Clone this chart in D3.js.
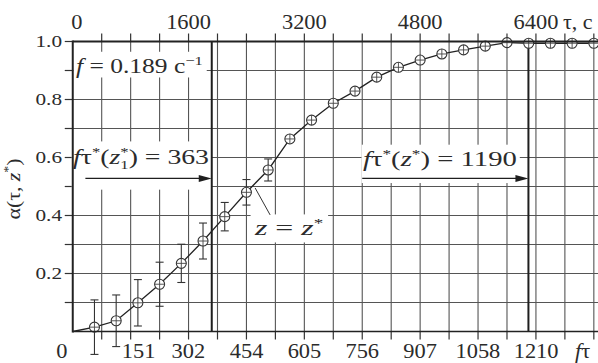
<!DOCTYPE html>
<html><head><meta charset="utf-8">
<script src="https://cdn.jsdelivr.net/npm/d3@7"></script>
<style>
body{margin:0;background:#fff;}
svg{display:block;}
</style>
</head><body>
<svg id="c" width="598" height="363"></svg>
<script>
// ---- data ----
const freq = 0.189;                       // f, c^-1
const tauValues = [300,600,900,1200,1500,1800,2100,2400,2700,3000,3300,3600,
                   3900,4200,4500,4800,5100,5400,5700,6000,6300,6600,6900,7200];
const alphaValues = [0.015,0.037,0.099,0.163,0.235,0.312,0.396,0.480,0.557,0.664,0.729,0.787,
                     0.829,0.877,0.911,0.936,0.957,0.971,0.984,0.996,0.994,0.994,0.994,0.994];
const alphaErrors = [0.094,0.089,0.080,0.076,0.066,0.062,0.049,0.044,0.038,0,0,0,
                     0,0,0,0,0,0,0,0,0,0,0,0];
const curveStart = {tau:0, alpha:0};
const topTickLabels = [0,1600,3200,4800,6400];
const bottomTickLabels = [0,151,302,454,605,756,907,1058,1210];
const yTickLabels = [0.2,0.4,0.6,0.8,1.0];
const markerFTau = [363,1190];            // f*tau*(z1*) and f*tau*(z*)

const FONT = '"Liberation Serif", "DejaVu Serif", "Liberation Sans", Arial, sans-serif';
const INK = '#2b2b2b';

// ---- scales ----
const svg = d3.select('#c');
const W = 598, H = 363;
const tauMax = 7270;
const x = d3.scaleLinear().domain([0,tauMax]).range([72.75,598.9]);
const xf = d3.scaleLinear().domain([0,tauMax*freq]).range([72.75,598.9]);
const y = d3.scaleLinear().domain([0,1]).range([331.5,41.5]);
const X0 = x(0), X1 = W, Y0 = y(0), Y1 = y(1);

svg.append('rect').attr('width',W).attr('height',H).attr('fill','#fff');

// ---- grid ----
const gridTau = d3.range(400, tauMax, 400);
const gridAlpha = d3.range(1,10).map(d=>d/10);
const grid = svg.append('g').attr('stroke','#555').attr('stroke-width',1.1);
grid.selectAll('.v').data(gridTau).join('line')
  .attr('x1',d=>x(d)).attr('x2',d=>x(d)).attr('y1',Y1).attr('y2',Y0);
grid.selectAll('.h').data(gridAlpha).join('line')
  .attr('x1',X0).attr('x2',X1).attr('y1',d=>y(d)).attr('y2',d=>y(d));

// ticks (outward)
const ticks = svg.append('g').attr('stroke','#333').attr('stroke-width',1.2);
ticks.selectAll('.tt').data(gridTau).join('line')
  .attr('x1',d=>x(d)).attr('x2',d=>x(d)).attr('y1',Y1-8).attr('y2',Y1);
ticks.selectAll('.bt').data(gridTau).join('line')
  .attr('x1',d=>x(d)).attr('x2',d=>x(d)).attr('y1',Y0).attr('y2',Y0+8);
ticks.selectAll('.lt').data(gridAlpha.concat([1])).join('line')
  .attr('x1',X0-8).attr('x2',X0).attr('y1',d=>y(d)).attr('y2',d=>y(d));

// ---- text helpers ----
function label(parent, px, py, size, sx, anchor){
  const g = parent.append('g').attr('transform',`translate(${px},${py}) scale(${sx},1)`);
  const t = g.append('text').style('font-family',FONT).attr('fill',INK)
    .attr('font-size',size).attr('text-anchor',anchor||'start');
  g.attr('data-x',px).attr('data-y',py);
  return {g,t};
}
function fitWidth(L, target){
  const b = L.t.node().getBBox();
  const s = target / b.width;
  L.g.attr('transform',`translate(${L.g.attr('data-x')},${L.g.attr('data-y')}) scale(${s},1)`);
}
function whiteBox(lbl, padL, padR, padT, padB){
  const b = lbl.t.node().getBBox();
  lbl.g.insert('rect','text')
    .attr('x',b.x-padL).attr('y',b.y-padT)
    .attr('width',b.width+padL+padR).attr('height',b.height+padT+padB)
    .attr('fill','#fff');
}

const ann = svg.append('g');

// f = 0.189 c^-1
{
  const L = label(ann, x(45), y(0.891), 20, 1);
  L.t.append('tspan').attr('font-style','italic').text('f');
  L.t.append('tspan').text(' = 0.189 с');
  L.t.append('tspan').attr('font-size',13).attr('dy',-8).text('−1');
  fitWidth(L,127);
  whiteBox(L,2,3,2,0);
}
// f tau*(z1*) = 363
{
  const L = label(ann, x(5), y(0.577), 20, 1);
  L.t.append('tspan').attr('font-style','italic').text('f');
  L.t.append('tspan').text('τ');
  L.t.append('tspan').attr('font-size',12).attr('dy',-8).text('*');
  L.t.append('tspan').attr('dy',8).text('(');
  L.t.append('tspan').attr('font-style','italic').text('z');
  L.t.append('tspan').attr('font-size',12).attr('dy',5).text('1');
  L.t.append('tspan').attr('font-size',12).attr('dx',-6).attr('dy',-13).text('*');
  L.t.append('tspan').attr('dy',8).text(') = 363');
  fitWidth(L,136);
  whiteBox(L,1,2,4,18);
}
// f tau*(z*) = 1190
{
  const L = label(ann, x(4010), y(0.570), 20, 1);
  L.t.append('tspan').attr('font-style','italic').text('f');
  L.t.append('tspan').text('τ');
  L.t.append('tspan').attr('font-size',12).attr('dy',-8).text('*');
  L.t.append('tspan').attr('dy',8).text('(');
  L.t.append('tspan').attr('font-style','italic').text('z');
  L.t.append('tspan').attr('font-size',12).attr('dy',-8).text('*');
  L.t.append('tspan').attr('dy',8).text(') = 1190');
  fitWidth(L,154);
  whiteBox(L,1,2,3,12);
}
// z = z*
{
  const L = label(ann, x(2518), y(0.333), 20, 1);
  L.t.append('tspan').attr('font-style','italic').text('z');
  L.t.append('tspan').text(' = ');
  L.t.append('tspan').attr('font-style','italic').text('z');
  L.t.append('tspan').attr('font-size',12).attr('dy',-8).text('*');
  fitWidth(L,70);
  whiteBox(L,2,3,2,3);
}

// ---- marker lines ----
svg.append('g').selectAll('line').data(markerFTau).join('line')
  .attr('x1',d=>xf(d)).attr('x2',d=>xf(d)).attr('y1',Y1).attr('y2',Y0)
  .attr('stroke','#1e1e1e').attr('stroke-width',2);

// ---- arrows ----
const arrows = [{from:xf(33), to:xf(markerFTau[0]), a:0.528},
                {from:xf(756), to:xf(markerFTau[1]), a:0.528}];
const ag = svg.append('g');
arrows.forEach(r=>{
  ag.append('line').attr('x1',r.from).attr('x2',r.to-10).attr('y1',y(r.a)).attr('y2',y(r.a))
    .attr('stroke','#1e1e1e').attr('stroke-width',1.3);
  ag.append('path').attr('d',`M${r.to},${y(r.a)} L${r.to-13},${y(r.a)-3.5} L${r.to-13},${y(r.a)+3.5} Z`)
    .attr('fill','#1e1e1e');
});
// leader line for z = z*
svg.append('line').attr('x1',x(2520)).attr('y1',y(0.495)).attr('x2',x(2727)).attr('y2',y(0.402))
  .attr('stroke','#333').attr('stroke-width',1);

// ---- curve ----
const pts = tauValues.map((t,i)=>({tau:t, alpha:alphaValues[i], err:alphaErrors[i]}));
const line = d3.line().x(d=>x(d.tau)).y(d=>y(d.alpha));
svg.append('path').datum([curveStart].concat(pts)).attr('d',line)
  .attr('fill','none').attr('stroke','#222').attr('stroke-width',1.3);

// error bars
const eb = svg.append('g').attr('stroke','#333').attr('stroke-width',1.1);
pts.filter(d=>d.err>0).forEach(d=>{
  const cx = x(d.tau), yt = y(d.alpha+d.err), yb = y(d.alpha-d.err);
  eb.append('line').attr('x1',cx).attr('x2',cx).attr('y1',yt).attr('y2',yb);
  eb.append('line').attr('x1',cx-4).attr('x2',cx+4).attr('y1',yt).attr('y2',yt);
  eb.append('line').attr('x1',cx-4).attr('x2',cx+4).attr('y1',yb).attr('y2',yb);
});

// markers ⊕
const mk = svg.append('g').selectAll('g').data(pts).join('g')
  .attr('transform',d=>`translate(${x(d.tau)},${y(d.alpha)})`);
mk.append('circle').attr('r',5).attr('fill','#fff').attr('stroke','#333').attr('stroke-width',1.1);
mk.append('line').attr('x1',-5).attr('x2',5).attr('stroke','#444').attr('stroke-width',0.9);
mk.append('line').attr('y1',-5).attr('y2',5).attr('stroke','#444').attr('stroke-width',0.9);

// ---- frame ----
const fr = svg.append('g').attr('stroke','#222');
fr.append('line').attr('x1',X0).attr('x2',X1).attr('y1',Y1).attr('y2',Y1).attr('stroke-width',2);
fr.append('line').attr('x1',X0).attr('x2',X0).attr('y1',Y1-1).attr('y2',Y0+1).attr('stroke-width',2);
fr.append('line').attr('x1',X0).attr('x2',X1).attr('y1',Y0).attr('y2',Y0).attr('stroke-width',1.6);

// ---- tick labels ----
const tl = svg.append('g');
topTickLabels.forEach((v,i)=>{
  const L = label(tl, x(v)+(i===0?4:0), 29, 20, 1.12, 'middle');
  L.t.text(v);
});
{
  const L = label(tl, x(6400)+27, 29, 20, 1.1, 'start');
  L.t.text('τ, с');
}
bottomTickLabels.forEach((v,i)=>{
  const dx = i===0 ? -11 : (i===1 ? 8 : 0);
  const L = label(tl, xf(v)+dx, 358, 20, 1.12, 'middle');
  L.t.text(v);
});
{
  const L = label(tl, x(6400)+39, 358, 20, 1.12, 'start');
  L.t.append('tspan').attr('font-style','italic').text('f');
  L.t.append('tspan').text('τ');
}
yTickLabels.forEach(v=>{
  const L = label(tl, 62, y(v), 17, 1.25, 'end');
  L.t.attr('dominant-baseline','central').text(v.toFixed(1));
});
// y title (reads bottom to top)
{
  const g = svg.append('g').attr('transform',`translate(14,189) rotate(-90)`);
  const t = g.append('text').style('font-family',FONT).attr('fill',INK)
    .attr('font-size',19).attr('text-anchor','middle').attr('dominant-baseline','central');
  t.append('tspan').text('α(τ, ');
  t.append('tspan').attr('font-style','italic').text('z');
  t.append('tspan').attr('font-size',12).attr('dy',-7).text('*');
  t.append('tspan').attr('dy',7).text(')');
  const w = t.node().getBBox().width;
  g.attr('transform',`translate(14,189) rotate(-90) scale(${Math.min(1.15, 80/w)},1)`);
}
</script>
</body></html>
